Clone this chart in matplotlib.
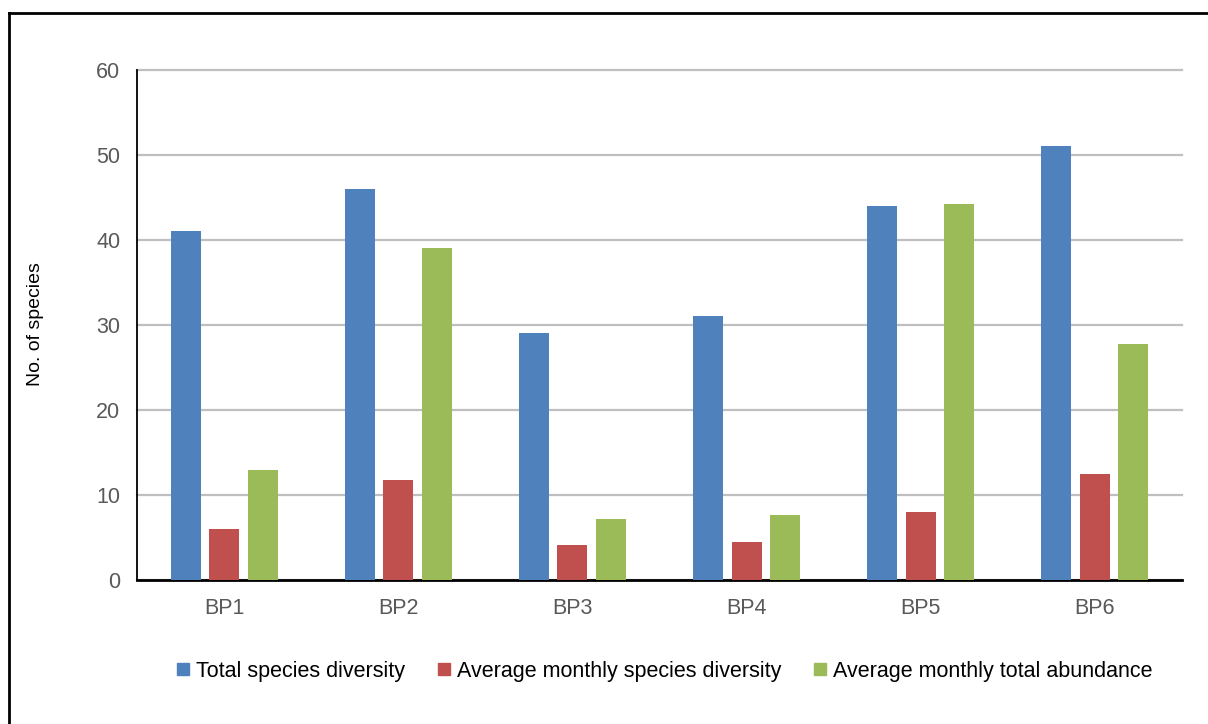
import numpy as np
import matplotlib.pyplot as plt
from matplotlib.lines import Line2D

plt.rcParams['font.family'] = ['Liberation Sans', 'DejaVu Sans']

sites = ["BP1", "BP2", "BP3", "BP4", "BP5", "BP6"]
total_div = [41, 46, 29, 31, 44, 51]
avg_div = [6.0, 11.8, 4.1, 4.5, 8.0, 12.5]
avg_abund = [13.0, 39.0, 7.2, 7.6, 44.2, 27.8]

series_names = ["Total species diversity", "Average monthly species diversity",
                "Average monthly total abundance"]
colors = ["#4F81BD", "#C0504D", "#9BBB59"]
fs = 15.5

fig = plt.figure(figsize=(12.08, 7.24), dpi=100)
ax = fig.add_axes([137/1208, 1 - 580/724, (1182-137)/1208, (580-70)/724])

x = np.arange(len(sites))
w = 0.172
step = 0.221
for i, (vals, c) in enumerate(zip([total_div, avg_div, avg_abund], colors)):
    ax.bar(x + (i - 1) * step, vals, width=w, color=c, zorder=3)

ax.set_xlim(-0.5, len(sites) - 0.5)
ax.set_ylim(0, 60)
ax.set_yticks(range(0, 61, 10))
ax.set_xticks(x)
ax.set_xticklabels(sites)
ax.tick_params(axis='both', length=0, labelsize=fs, labelcolor="#595959")
ax.tick_params(axis='y', pad=12)
ax.tick_params(axis='x', pad=13)
ax.grid(axis='y', color="#BFBFBF", linewidth=1.6, zorder=0)
for gl in ax.get_ygridlines():
    gl.set_clip_on(False)
for s in ['top', 'right']:
    ax.spines[s].set_visible(False)
ax.spines['left'].set_color("black")
ax.spines['left'].set_linewidth(1.3)
ax.spines['left'].set_zorder(4)
ax.spines['bottom'].set_color("black")
ax.spines['bottom'].set_linewidth(2)
fig.text(35/1208, 1 - 324/724, "No. of species", rotation=90, ha='center', va='center',
         fontsize=14)

handles = [Line2D([], [], marker='s', linestyle='none', markersize=8,
                  markerfacecolor=c, markeredgecolor=c) for c in colors]
fig.legend(handles, series_names, loc='center', bbox_to_anchor=(663/1208, 1 - 671/724),
           ncol=3, frameon=False, fontsize=fs, handletextpad=0.15,
           columnspacing=1.35, handlelength=0.9)

# outer frame
fig.add_artist(Line2D([9/1208, 9/1208], [0, 1 - 13/724], transform=fig.transFigure,
                      color="black", linewidth=2))
fig.add_artist(Line2D([9/1208, 1], [1 - 13/724, 1 - 13/724], transform=fig.transFigure,
                      color="black", linewidth=2))

fig.savefig("out.png", dpi=100)
